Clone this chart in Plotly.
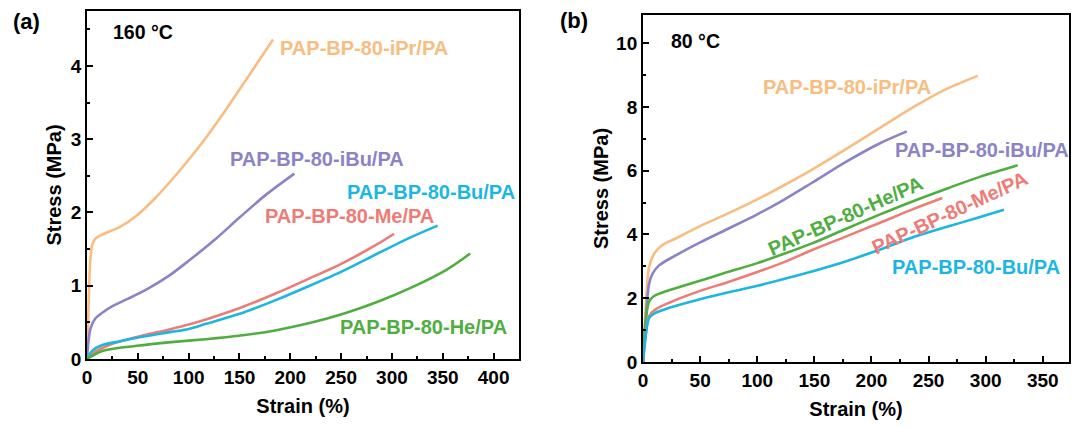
import plotly.graph_objects as go

# ---- (a) 160 °C stress-strain curves: strain (%), stress (MPa) ----
a_ipr_x = [0, 1.5, 3, 5, 8, 12, 20, 32, 49, 66, 83, 100, 117, 134, 151, 168, 183]
a_ipr_y = [0, 0.7, 1.3, 1.55, 1.64, 1.68, 1.73, 1.80, 1.96, 2.18, 2.44, 2.72, 3.02, 3.35, 3.70, 4.05, 4.36]

a_ibu_x = [0, 1.5, 3.5, 8, 15, 25, 40, 60, 80, 100, 125, 150, 175, 204]
a_ibu_y = [0, 0.25, 0.42, 0.55, 0.63, 0.72, 0.82, 0.96, 1.13, 1.34, 1.62, 1.93, 2.23, 2.53]

a_me_x = [0, 5, 15, 30, 49, 83, 100, 117, 151, 185, 219, 253, 286, 302]
a_me_y = [0, 0.07, 0.15, 0.23, 0.30, 0.41, 0.47, 0.54, 0.70, 0.89, 1.10, 1.32, 1.57, 1.71]

a_bu_x = [0, 5, 15, 32, 49, 83, 100, 117, 151, 185, 219, 253, 286, 320, 345]
a_bu_y = [0, 0.11, 0.19, 0.24, 0.29, 0.37, 0.41, 0.48, 0.62, 0.80, 1.00, 1.21, 1.44, 1.67, 1.82]

a_he_x = [0, 15, 49, 83, 117, 151, 185, 219, 253, 286, 320, 354, 377]
a_he_y = [0, 0.11, 0.18, 0.23, 0.27, 0.32, 0.39, 0.49, 0.62, 0.78, 0.98, 1.22, 1.44]

# ---- (b) 80 °C stress-strain curves ----
b_ipr_x = [0, 2, 5.3, 9.8, 17, 29, 50, 74, 100, 124, 148, 178, 207, 237, 265, 293]
b_ipr_y = [0, 1.5, 2.98, 3.40, 3.67, 3.88, 4.26, 4.65, 5.10, 5.55, 6.03, 6.68, 7.33, 8.00, 8.55, 8.97]

b_ibu_x = [0, 2, 5.3, 8.3, 14, 29, 50, 74, 100, 124, 148, 178, 207, 231]
b_ibu_y = [0, 1.2, 2.45, 2.77, 3.03, 3.35, 3.75, 4.17, 4.63, 5.10, 5.62, 6.28, 6.85, 7.23]

b_he_x = [0, 2.4, 5.3, 9.8, 17, 50, 74, 100, 124, 148, 178, 207, 237, 267, 296, 328]
b_he_y = [0, 1.28, 1.91, 2.07, 2.18, 2.55, 2.82, 3.10, 3.40, 3.72, 4.18, 4.62, 5.05, 5.45, 5.82, 6.17]

b_me_x = [0, 2.4, 5.3, 11, 23, 50, 74, 100, 124, 148, 178, 207, 237, 262]
b_me_y = [0, 0.85, 1.44, 1.65, 1.86, 2.23, 2.50, 2.82, 3.14, 3.51, 3.94, 4.36, 4.80, 5.14]

b_bu_x = [0, 2.4, 5.3, 11, 23, 50, 74, 100, 124, 148, 178, 207, 237, 267, 293, 316]
b_bu_y = [0, 0.85, 1.38, 1.54, 1.70, 1.97, 2.18, 2.39, 2.61, 2.84, 3.16, 3.52, 3.92, 4.25, 4.52, 4.77]

names = {
    "ipr": "PAP-BP-80-iPr/PA",
    "ibu": "PAP-BP-80-iBu/PA",
    "bu": "PAP-BP-80-Bu/PA",
    "me": "PAP-BP-80-Me/PA",
    "he": "PAP-BP-80-He/PA",
}
colors = {
    "ipr": "#F8BD80",
    "ibu": "#8C83C6",
    "bu": "#1DB6E0",
    "me": "#EE7C76",
    "he": "#4FAE3F",
}

FONT = "Liberation Sans, Arial, Helvetica, sans-serif"

fig = go.Figure()

panel_a = [("ipr", a_ipr_x, a_ipr_y), ("ibu", a_ibu_x, a_ibu_y), ("me", a_me_x, a_me_y),
           ("bu", a_bu_x, a_bu_y), ("he", a_he_x, a_he_y)]
panel_b = [("ipr", b_ipr_x, b_ipr_y), ("ibu", b_ibu_x, b_ibu_y), ("he", b_he_x, b_he_y),
           ("me", b_me_x, b_me_y), ("bu", b_bu_x, b_bu_y)]

for key, xs, ys in panel_a:
    fig.add_trace(go.Scatter(x=xs, y=ys, mode="lines", name=names[key],
                             line=dict(color=colors[key], width=2.6, shape="spline", smoothing=0.85),
                             xaxis="x", yaxis="y", showlegend=False))
for key, xs, ys in panel_b:
    fig.add_trace(go.Scatter(x=xs, y=ys, mode="lines", name=names[key],
                             line=dict(color=colors[key], width=2.6, shape="spline", smoothing=0.85),
                             xaxis="x2", yaxis="y2", showlegend=False))

tick_font = dict(family=FONT, size=19, color="black", weight="bold")
title_font = dict(family=FONT, size=20, color="black", weight="bold")


def axis_style(**kw):
    base = dict(
        showline=True, linewidth=2, linecolor="black", mirror=True,
        ticks="inside", ticklen=6, tickwidth=2, tickcolor="black",
        showgrid=False, zeroline=False, tickfont=tick_font,
        automargin=False,
    )
    base.update(kw)
    return base


minor_style = dict(ticks="inside", ticklen=3, tickwidth=2, tickcolor="black", tick0=0)

fig.update_layout(
    width=1073, height=427,
    margin=dict(l=0, r=0, t=0, b=0),
    paper_bgcolor="white", plot_bgcolor="white",
    xaxis=axis_style(domain=[0.0811, 0.4837], range=[0, 425], tickmode="array",
                     tickvals=[0, 50, 100, 150, 200, 250, 300, 350, 400],
                     minor=dict(dtick=25, **minor_style),
                     title=dict(text="Strain (%)", font=title_font, standoff=12), anchor="y"),
    yaxis=axis_style(domain=[0.1593, 0.9742], range=[0, 4.75], tickmode="array",
                     tickvals=[0, 1, 2, 3, 4],
                     minor=dict(dtick=0.5, **minor_style),
                     title=dict(text="Stress (MPa)", font=title_font, standoff=4), anchor="x"),
    xaxis2=axis_style(domain=[0.5993, 0.9963], range=[0, 373], tickmode="array",
                      tickvals=[0, 50, 100, 150, 200, 250, 300, 350],
                      minor=dict(dtick=25, **minor_style),
                      title=dict(text="Strain (%)", font=title_font, standoff=12), anchor="y2"),
    yaxis2=axis_style(domain=[0.1522, 0.9649], range=[0, 10.88], tickmode="array",
                      tickvals=[0, 2, 4, 6, 8, 10],
                      minor=dict(dtick=1, **minor_style),
                      title=dict(text="Stress (MPa)", font=title_font, standoff=2), anchor="x2"),
)


def label_font(key):
    return dict(family=FONT, size=20, color=colors[key], weight="bold")


temp_font = dict(family=FONT, size=19.5, color="black", weight="bold")
letter_font = dict(family=FONT, size=22, color="black", weight="bold")

annotations = [
    # panel (a) curve labels
    dict(x=188, y=4.25, xref="x", yref="y", text=names["ipr"], font=label_font("ipr")),
    dict(x=139, y=2.73, xref="x", yref="y", text=names["ibu"], font=label_font("ibu")),
    dict(x=254, y=2.28, xref="x", yref="y", text=names["bu"], font=label_font("bu")),
    dict(x=173, y=1.95, xref="x", yref="y", text=names["me"], font=label_font("me")),
    dict(x=247, y=0.43, xref="x", yref="y", text=names["he"], font=label_font("he")),
    dict(x=23.7, y=4.46, xref="x", yref="y", text="160 °C", font=temp_font),
    # panel (b) curve labels
    dict(x=103, y=8.62, xref="x2", yref="y2", text=names["ipr"], font=label_font("ipr")),
    dict(x=219, y=6.65, xref="x2", yref="y2", text=names["ibu"], font=label_font("ibu")),
    dict(x=216, y=2.98, xref="x2", yref="y2", text=names["bu"], font=label_font("bu")),
    dict(x=22.6, y=10.05, xref="x2", yref="y2", text="80 °C", font=temp_font),
]
for a in annotations:
    a.update(showarrow=False, xanchor="left", yanchor="middle")

# rotated labels that follow the He and Me curves in panel (b)
annotations += [
    dict(x=177, y=4.57, xref="x2", yref="y2", text=names["he"], font=label_font("he"),
         textangle=-24, showarrow=False, xanchor="center", yanchor="middle"),
    dict(x=268, y=4.68, xref="x2", yref="y2", text=names["me"], font=label_font("me"),
         textangle=-25, showarrow=False, xanchor="center", yanchor="middle"),
    # panel letters
    dict(x=0.010, y=0.950, xref="paper", yref="paper", text="(a)", showarrow=False,
         xanchor="left", yanchor="middle", font=letter_font),
    dict(x=0.520, y=0.953, xref="paper", yref="paper", text="(b)", showarrow=False,
         xanchor="left", yanchor="middle", font=letter_font),
]
fig.update_layout(annotations=annotations)

fig.write_html("out.html")
